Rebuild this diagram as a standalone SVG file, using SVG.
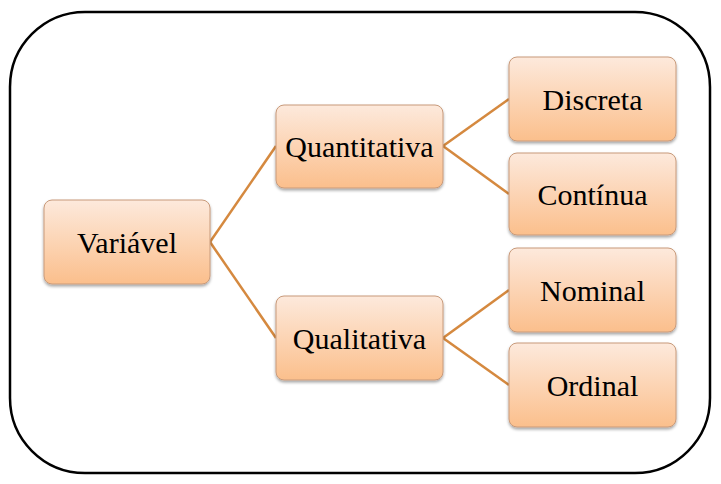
<svg xmlns="http://www.w3.org/2000/svg" width="721" height="484" viewBox="0 0 721 484">
  <defs>
    <linearGradient id="g" x1="0" y1="0" x2="0" y2="1">
      <stop offset="0" stop-color="#fde9dc"/>
      <stop offset="1" stop-color="#fbbf8c"/>
    </linearGradient>
    <filter id="sh" x="-10%" y="-10%" width="120%" height="130%">
      <feGaussianBlur in="SourceAlpha" stdDeviation="1.5"/>
      <feOffset dx="0" dy="2" result="b"/>
      <feComponentTransfer><feFuncA type="linear" slope="0.35"/></feComponentTransfer>
      <feMerge><feMergeNode/><feMergeNode in="SourceGraphic"/></feMerge>
    </filter>
    <style>
      .box { fill: url(#g); stroke: #c89a7a; stroke-width: 1; filter: url(#sh); }
      .lbl { font-size: 30px; fill: #000; text-anchor: middle; }
      .con { stroke: #d5893f; stroke-width: 2.5; fill: none; }
    </style>
  </defs>
  <rect x="0" y="0" width="721" height="484" fill="#fff"/>
  <rect id="frame" x="10" y="12" width="700" height="461" rx="75" ry="75" fill="none" stroke="#000" stroke-width="2.5"/>
  <g id="connectors">
    <path class="con" d="M210,242 L276,146"/>
    <path class="con" d="M210,242 L276,338"/>
    <path class="con" d="M443,146 L509,99"/>
    <path class="con" d="M443,146 L509,194"/>
    <path class="con" d="M443,338 L509,290"/>
    <path class="con" d="M443,338 L509,385"/>
  </g>
  <g id="nodes" font-family="'Liberation Serif', 'Times New Roman', 'DejaVu Serif', serif">
  <g id="variavel">
    <rect class="box" x="44" y="200" width="166" height="84" rx="8"/>
    <text class="lbl" x="127" y="253">Variável</text>
  </g>
  <g id="quantitativa">
    <rect class="box" x="276" y="105" width="167" height="83" rx="8"/>
    <text class="lbl" x="359.5" y="157">Quantitativa</text>
  </g>
  <g id="qualitativa">
    <rect class="box" x="276" y="296" width="167" height="84" rx="8"/>
    <text class="lbl" x="359.5" y="349">Qualitativa</text>
  </g>
  <g id="discreta">
    <rect class="box" x="509" y="57" width="167" height="84" rx="8"/>
    <text class="lbl" x="592.5" y="110">Discreta</text>
  </g>
  <g id="continua">
    <rect class="box" x="509" y="153" width="167" height="82" rx="8"/>
    <text class="lbl" x="592.5" y="205">Contínua</text>
  </g>
  <g id="nominal">
    <rect class="box" x="509" y="248" width="167" height="84" rx="8"/>
    <text class="lbl" x="592.5" y="301">Nominal</text>
  </g>
  <g id="ordinal">
    <rect class="box" x="509" y="343" width="167" height="84" rx="8"/>
    <text class="lbl" x="592.5" y="396">Ordinal</text>
  </g>
  </g>
</svg>
